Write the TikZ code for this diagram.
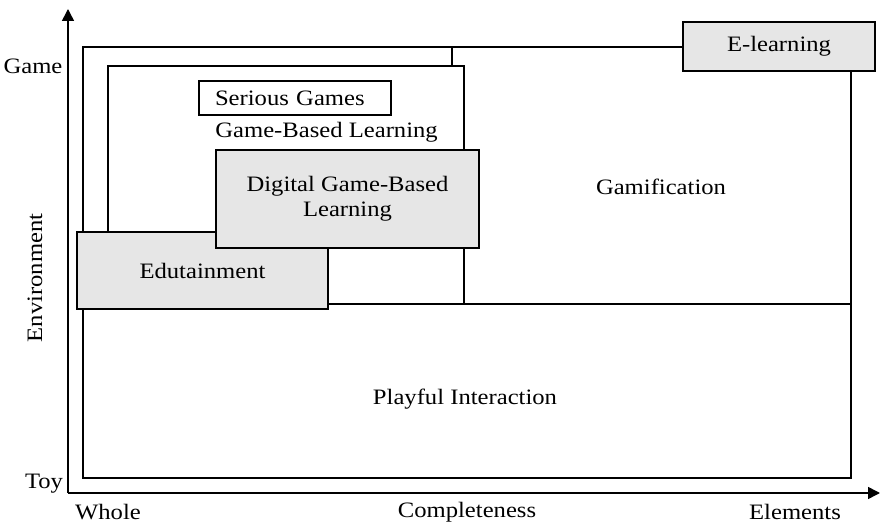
\documentclass[tikz,border=0pt]{standalone}
\usepackage{fontspec}
\setmainfont{Liberation Serif}[FakeStretch=1.12]
\usetikzlibrary{arrows.meta}
\definecolor{boxgray}{HTML}{E6E6E6}
\begin{document}
\begin{tikzpicture}[x=0.5pt,y=-0.5pt,
  every node/.style={font=\fontsize{11pt}{12.5pt}\selectfont},
  region/.style={draw,line width=0.8pt,fill=white},
  graybox/.style={draw,line width=0.7pt,fill=boxgray,inner sep=0pt,align=center},
  axislabel/.style={inner sep=0pt}]
\useasboundingbox (0,0) rectangle (880,524);
% regions
\draw[region] (83,47) rectangle (851,478);
\draw[line width=0.8pt] (83,304) -- (851,304);
\draw[region] (83,47) rectangle (452,304);
\draw[region,line width=0.7pt] (108,66) rectangle (464,304);
% labels inside regions
\node (playful) at (465,399) {Playful Interaction};
\node (gamif) at (661,187) {Gamification};
\node[draw,line width=0.7pt,fill=white,inner xsep=8pt,text width=80pt,minimum height=17pt,align=left] (serious) at (295,98) {Serious Games};
\node[anchor=west,inner sep=0pt] (gbl) at (215,132) {Game-Based Learning};
% gray boxes
\node[graybox,minimum width=125.5pt,minimum height=38.5pt] (edu) at (202.5,270.5) {Edutainment};
\node[graybox,minimum width=131.5pt,minimum height=49pt] (dgbl) at (347.5,199) {Digital Game-Based\\Learning};
\node[graybox,minimum width=96pt,minimum height=24.5pt] (elearn) at (779,46.5) {E-learning};
% axes
\coordinate (origin) at (68,493);
\coordinate (ytip) at (68,9);
\coordinate (xtip) at (880,493);
\draw[line width=0.8pt,-{Triangle[length=6pt,width=6pt]}] (origin) -- (ytip);
\draw[line width=0.8pt,-{Triangle[length=6pt,width=6pt]}] (origin) -- (xtip);
\node[axislabel] (game) at (33,66) {Game};
\node[axislabel] (toy) at (44,484) {Toy};
\node[axislabel,rotate=90] (env) at (35,278) {Environment};
\node[axislabel] (whole) at (108,512) {Whole};
\node[axislabel] (complete) at (467,512) {Completeness};
\node[axislabel] (elements) at (795,512) {Elements};
\end{tikzpicture}
\end{document}
